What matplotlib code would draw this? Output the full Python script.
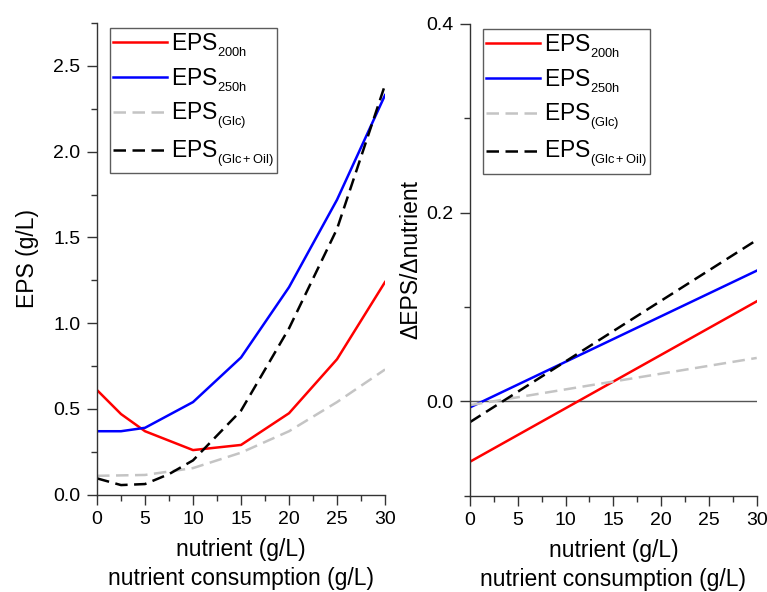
import matplotlib
matplotlib.use("Agg")
import matplotlib.pyplot as plt
import matplotlib._mathtext as mathtext_impl
from matplotlib.ticker import MultipleLocator, FormatStrFormatter

plt.rcParams['font.family'] = ['Liberation Sans', 'DejaVu Sans']
plt.rcParams['mathtext.fontset'] = 'custom'
plt.rcParams['mathtext.rm'] = 'Liberation Sans'
plt.rcParams['mathtext.it'] = 'Liberation Sans'
plt.rcParams['mathtext.default'] = 'regular'
# slightly larger nested subscripts for the legend labels
mathtext_impl.SHRINK_FACTOR = 0.75

# EPS yield versus nutrient (left panel)
x_eps = [0, 2.5, 5, 10, 15, 20, 25, 30]
eps_200h = [0.61, 0.47, 0.37, 0.26, 0.29, 0.475, 0.79, 1.24]
eps_250h = [0.37, 0.37, 0.39, 0.54, 0.80, 1.21, 1.72, 2.33]

x_glc = [0, 5, 10, 15, 20, 25, 30]
eps_glc = [0.11, 0.115, 0.155, 0.245, 0.37, 0.54, 0.73]

x_oil = [0, 2.5, 5, 7.5, 10, 15, 20, 25, 30]
eps_oil = [0.095, 0.056, 0.062, 0.12, 0.20, 0.49, 0.97, 1.55, 2.39]

# Marginal change ΔEPS/Δnutrient (right panel)
x_rate = [0, 30]
rate_200h = [-0.064, 0.106]
rate_250h = [-0.0064, 0.1385]
rate_glc = [-0.004, 0.046]
rate_oil = [-0.022, 0.171]

labels = [r'EPS$_{_{200h}}$', r'EPS$_{_{250h}}$',
          r'EPS$_{_{(Glc)}}$', r'EPS$_{_{(Glc+Oil)}}$']

RED = '#ff0000'
BLUE = '#0000ff'
GRAY = '#c4c4c4'
BLACK = '#000000'
LW = 1.8
DASH = (5, 2.6)

fig = plt.figure(figsize=(7.67, 5.92), dpi=100)
ax1 = fig.add_axes([0.1265, 0.1644, 0.3755, 0.7966])
ax2 = fig.add_axes([0.6128, 0.1627, 0.3738, 0.7968])

ax1.plot(x_eps, eps_200h, color=RED, lw=LW, label=labels[0])
ax1.plot(x_eps, eps_250h, color=BLUE, lw=LW, label=labels[1])
ax1.plot(x_glc, eps_glc, color=GRAY, lw=LW, dashes=DASH, label=labels[2])
ax1.plot(x_oil, eps_oil, color=BLACK, lw=LW, dashes=DASH, label=labels[3])

ax2.axhline(0, color='#555555', lw=1.0, zorder=1)
ax2.plot(x_rate, rate_200h, color=RED, lw=LW, label=labels[0])
ax2.plot(x_rate, rate_250h, color=BLUE, lw=LW, label=labels[1])
ax2.plot(x_rate, rate_glc, color=GRAY, lw=LW, dashes=DASH, label=labels[2])
ax2.plot(x_rate, rate_oil, color=BLACK, lw=LW, dashes=DASH, label=labels[3])

ax1.set_xlim(0, 30)
ax1.set_ylim(0, 2.75)
ax1.yaxis.set_major_locator(MultipleLocator(0.5))
ax1.yaxis.set_minor_locator(MultipleLocator(0.25))
ax1.yaxis.set_major_formatter(FormatStrFormatter('%.1f'))
ax1.set_ylabel('EPS (g/L)', fontsize=16.5, labelpad=10)

ax2.set_xlim(0, 30)
ax2.set_ylim(-0.1, 0.4)
ax2.yaxis.set_major_locator(MultipleLocator(0.2))
ax2.yaxis.set_minor_locator(MultipleLocator(0.1))
ax2.yaxis.set_major_formatter(FormatStrFormatter('%.1f'))
ax2.set_ylabel('ΔEPS/Δnutrient', fontsize=16.5, labelpad=3)

for ax in (ax1, ax2):
    ax.xaxis.set_major_locator(MultipleLocator(5))
    ax.xaxis.set_minor_locator(MultipleLocator(2.5))
    ax.spines['top'].set_visible(False)
    ax.spines['right'].set_visible(False)
    for s in ('left', 'bottom'):
        ax.spines[s].set_color('#333333')
        ax.spines[s].set_linewidth(1.0)
    ax.tick_params(which='major', direction='out', length=7, width=1.0,
                   color='#333333', labelsize=14, pad=5)
    ax.tick_params(which='minor', direction='out', length=4, width=1.0,
                   color='#333333')
    ax.set_xlabel('nutrient (g/L)\nnutrient consumption (g/L)', fontsize=16.5,
                  labelpad=7, linespacing=1.35)
    leg = ax.legend(loc='upper left', bbox_to_anchor=(0.045, 0.99),
                    fontsize=16.5, frameon=True, fancybox=False,
                    handlelength=2.35, handletextpad=0.15, labelspacing=0.3,
                    borderpad=0.15, borderaxespad=0.0)
    leg.get_frame().set_edgecolor('#333333')
    leg.get_frame().set_linewidth(1.0)

fig.savefig('out.png', dpi=100)
